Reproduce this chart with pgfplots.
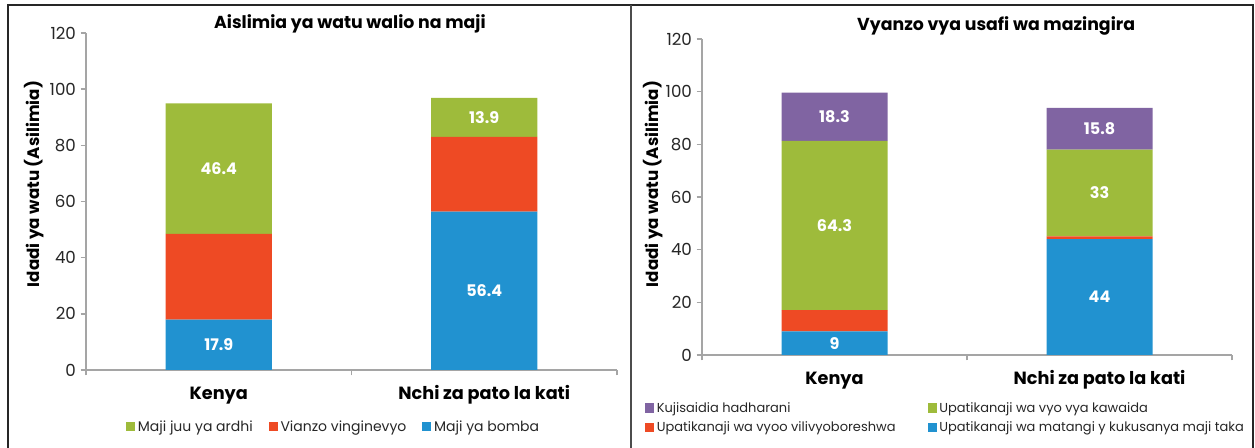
\documentclass[border=0pt]{standalone}
\usepackage{pgfplots}
\pgfplotsset{compat=1.18}
\usepackage{pgfplotstable}
\usepackage{fontspec}
\setmainfont{Poppins}
\definecolor{cgreen}{RGB}{158,187,59}
\definecolor{cred}{RGB}{238,74,36}
\definecolor{cblue}{RGB}{33,146,208}
\definecolor{cpurple}{RGB}{128,100,162}
\definecolor{axgray}{RGB}{165,165,165}

\pgfplotstableread{
x blue red green
0 17.9 30.6 46.4
1 56.4 26.6 13.9
}\watertab

\pgfplotstableread{
x blue red green purple
0 9 8 64.3 18.3
1 44 1 33 15.8
}\sanitab

\tikzset{ttl/.style={anchor=base, font=\bfseries\fontsize{13}{15}\selectfont, inner sep=0pt}}

\pgfplotsset{
  panel/.style={
    scale only axis,
    ybar stacked,
    bar width=0.4,
    xmin=-0.5, xmax=1.5,
    ymin=0, ymax=120,
    enlargelimits=false,
    ytick={0,20,...,120},
    xtick={-0.5,0.5,1.5},
    xticklabels={},
    extra x ticks={0,1},
    extra x tick labels={Kenya,Nchi za pato la kati},
    axis x line*=bottom,
    axis y line*=left,
    axis line style={draw=axgray, line width=1.2pt, -},
    tick style={draw=axgray, line width=1.2pt},
    tick align=outside,
    major tick length=4pt,
    /pgf/number format/assume math mode=true,
    yticklabel style={font=\fontsize{12.5}{14}\selectfont, text=black!85},
    ylabel={Idadi ya watu (Asilimia)},
    ylabel style={font=\bfseries\fontsize{12.5}{14}\selectfont, anchor=center},
    legend style={draw=none, fill=none, font=\fontsize{10.25}{12}\selectfont,
      text=black!85, inner sep=0pt},
    legend cell align=left,
    reverse legend,
    legend image code/.code={\fill[##1,draw=none] (0pt,-3.2pt) rectangle (6.8pt,3.6pt);},
  },
  lbl/.style={
    nodes near coords,
    point meta=explicit symbolic,
    every node near coord/.append style={anchor=center, text=white,
      font=\bfseries\fontsize{12}{14}\selectfont},
  },
}

\begin{document}
\begin{tikzpicture}
\useasboundingbox (0pt,0pt) rectangle (941.25pt,336pt);
\draw[black!85, line width=1.1pt] (6pt,0pt) -- (6pt,332.25pt) -- (939.75pt,332.25pt) -- (939.75pt,0pt);
\draw[black!70, line width=1.1pt] (473.25pt,0pt) -- (473.25pt,332.25pt);

% Left panel
\begin{axis}[panel,
  at={(64.5pt,58.5pt)}, anchor=south west,
  width=398.25pt, height=252.75pt,
  clip=false,
  extra x tick style={major tick length=0pt,
    xticklabel style={font=\bfseries\fontsize{13.25}{16}\selectfont, anchor=base, yshift=-22pt}},
  ylabel style={at={(axis description cs:-0.098,0.552)}},
  legend columns=3,
  legend style={at={(axis description cs:0.467,-0.169)}, anchor=center,
    font=\fontsize{10.5}{12}\selectfont,
    /tikz/every even column/.append style={column sep=10pt}},
]
\addplot[fill=cblue, draw=none, lbl] table[x=x, y=blue, meta=blue] \watertab;
\addlegendentry{Maji ya bomba}
\addplot[fill=cred, draw=none] table[x=x, y=red] \watertab;
\addlegendentry{Vianzo vinginevyo}
\addplot[fill=cgreen, draw=none, lbl] table[x=x, y=green, meta=green] \watertab;
\addlegendentry{Maji juu ya ardhi}
\node[ttl] at (axis description cs:0.497,1.013) {Aislimia ya watu walio na maji};
\end{axis}

% Right panel
\begin{axis}[panel,
  at={(526.5pt,69.75pt)}, anchor=south west,
  width=397.5pt, height=237pt,
  clip=false,
  extra x tick style={major tick length=0pt,
    xticklabel style={font=\bfseries\fontsize{13.25}{16}\selectfont, anchor=base, yshift=-22pt}},
  ylabel style={at={(axis description cs:-0.0925,0.541)}},
  legend columns=2,
  legend style={at={(axis description cs:-0.108,-0.199)}, anchor=west,
    font=\fontsize{9.75}{11.5}\selectfont,
    /tikz/every even column/.append style={column sep=22pt},
    row sep=1.5pt},
]
\addplot[fill=cblue, draw=none, lbl] table[x=x, y=blue, meta=blue] \sanitab;
\addlegendentry{Upatikanaji wa matangi y kukusanya maji taka}
\addplot[fill=cred, draw=none] table[x=x, y=red] \sanitab;
\addlegendentry{Upatikanaji wa vyoo vilivyoboreshwa}
\addplot[fill=cgreen, draw=none, lbl] table[x=x, y=green, meta=green] \sanitab;
\addlegendentry{Upatikanaji wa vyo vya kawaida}
\addplot[fill=cpurple, draw=none, lbl] table[x=x, y=purple, meta=purple] \sanitab;
\addlegendentry{Kujisaidia hadharani}
\node[ttl] at (axis description cs:0.555,1.028) {Vyanzo vya usafi wa mazingira};
\end{axis}
\end{tikzpicture}
\end{document}
